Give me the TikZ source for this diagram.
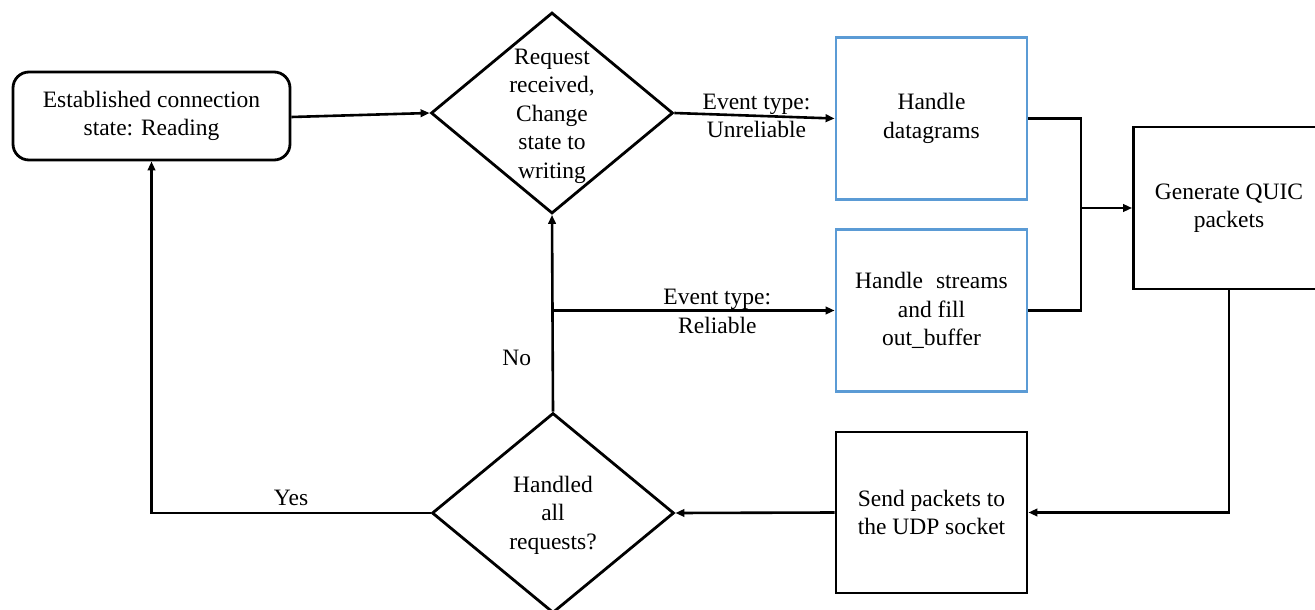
\documentclass[tikz,border=0pt]{standalone}
\usepackage{fontspec}
\setmainfont{Liberation Serif}
\usetikzlibrary{shapes.geometric,arrows.meta}
\definecolor{boxblue}{HTML}{5B9BD5}
\begin{document}
\begin{tikzpicture}[x=1pt,y=-1pt,
  every node/.style={font=\fontsize{23.5}{28.5}\selectfont, align=center},
  frame/.style={draw, line width=2.8pt, inner sep=0pt},
  procbox/.style={frame, minimum width=191pt, minimum height=162pt},
  bluebox/.style={procbox, draw=boxblue},
  decision/.style={frame, diamond, minimum width=242pt, minimum height=201pt},
  arr/.style={line width=2.6pt, -{Triangle[length=9pt,width=7.5pt]}},
  plain/.style={line width=2.6pt}]
  \useasboundingbox (0,0) rectangle (1315,610);
  \fill[white] (0,0) rectangle (1315,610);
  \clip (0,0) rectangle (1315,610);

  % states and decisions
  \node[frame, rounded corners=16pt, minimum width=277pt, minimum height=88pt]
    (start) at (151.5,116) {Established connection\\state: Reading};
  \node[decision] (d1) at (552,113) {};
  \node (d1text) at (552,116) {Request\\received,\\Change\\state to\\writing};
  \node[bluebox] (dgram) at (931.5,118.5) {Handle\\datagrams};
  \node[bluebox] (strm) at (931.5,310.5) {Handle\hspace{0.3em} streams\\and fill\\out\_buffer};
  \node[procbox] (gen) at (1229,208) {Generate QUIC\\packets};
  \node[procbox, minimum height=161pt] (send) at (931.5,512.5) {Send packets to\\the UDP socket};
  \node[decision, minimum height=200pt] (d2) at (553,513) {};
  \node (d2text) at (553,515) {Handled\\all\\requests?};

  % connectors
  \coordinate (branch) at (d1.south |- strm.west);
  \coordinate (join) at (1081,208);
  \draw[arr] ([yshift=-1pt]start.east) -- (d1.west);
  \draw[arr] (d1.east) -- (dgram.west)
    node[midway, xshift=2pt] (lblU) {Event type:\\Unreliable};
  \draw[arr] (d2.north) -- (d1.south)
    node[pos=0.275, xshift=-36pt] (lblNo) {No};
  \draw[arr] (branch) -- (strm.west)
    node[pos=0.585, yshift=-1pt] (lblR) {Event type:\\Reliable};
  \draw[plain] (dgram.east) -| (join);
  \draw[plain] (strm.east) -| (join);
  \draw[arr] (join) -- (gen.west);
  \draw[arr] (gen.south) |- (send.east);
  \draw[arr] (send.west) -- (d2.east);
  \draw[arr] (d2.west) -| (start.south)
    node[pos=0.25, yshift=15pt] (lblYes) {Yes};
\end{tikzpicture}
\end{document}
